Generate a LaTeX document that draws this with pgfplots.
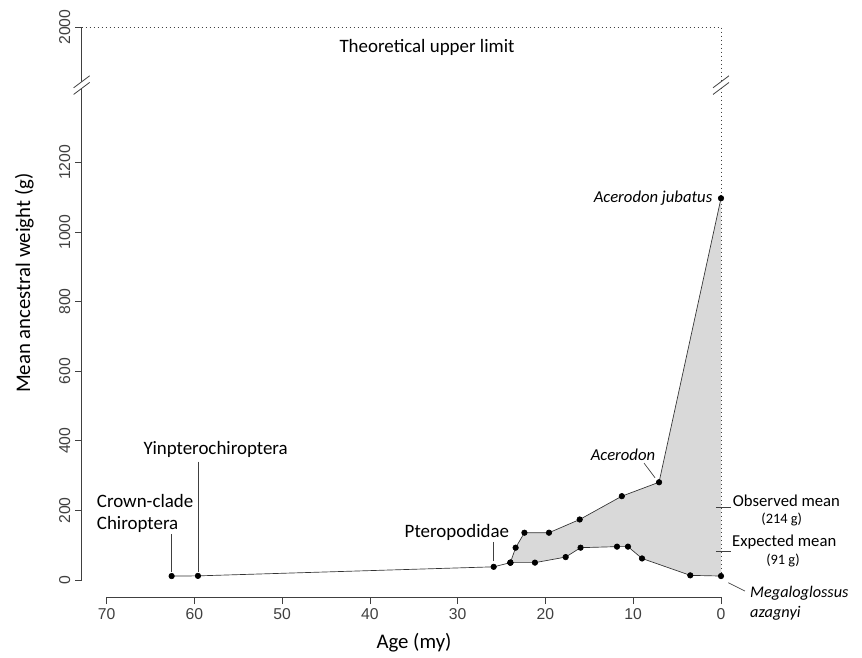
\documentclass[border=0pt]{standalone}
\usepackage{fontspec}
\setmainfont{Carlito}
\newfontfamily\arialfont{Liberation Sans}
\usepackage{pgfplots}
\pgfplotsset{compat=1.18}
\usepackage{pgfplotstable}
\usepgfplotslibrary{fillbetween}

% stem of the tree (Crown-clade Chiroptera -> Pteropodidae split)
\pgfplotstableread{
x y
62.6 11.5
59.6 12
25.9 38
24.0 50
}\stemdata
% upper bound of the envelope
\pgfplotstableread{
x y
24.0 50
23.4 93
22.4 136
19.6 136
16.1 174
11.3 241
7.06 281
0 1097
}\upperdata
% lower bound of the envelope
\pgfplotstableread{
x y
24.0 50
21.2 50
17.7 66
16.0 93
11.85 96
10.6 96
9.0 62
3.5 13.5
0 11.5
}\lowerdata

\newcommand\annfont{\fontsize{12.5}{15}\selectfont}
\newcommand\bigann{\fontsize{14.2}{17}\selectfont}
\newcommand\smallann{\fontsize{10.8}{12}\selectfont}
\definecolor{axgray}{HTML}{404040}
\definecolor{fillgray}{HTML}{D9D9D9}

\begin{document}
\begin{tikzpicture}
\begin{axis}[
  name=ax,
  scale only axis,
  width=460.7pt, height=414.75pt,
  x dir=reverse,
  xmin=0, xmax=70, ymin=0, ymax=2000,
  y coord trafo/.code={\pgfmathparse{#1>1400?1400+(#1-1400)*0.315:#1}},
  y coord inv trafo/.code={\pgfmathparse{#1>1400?1400+(#1-1400)/0.315:#1}},
  axis x line*=bottom, axis y line*=left,
  axis x line shift=13pt, axis y line shift=18.75pt,
  axis line style={axgray, line width=0.6pt, -},
  xtick={0,10,20,30,40,50,60,70},
  ytick={0,200,400,600,800,1000,1200,2000},
  yticklabels={0,200,400,600,800,1000,1200,2000},
  tick align=outside, major tick length=5pt,
  tick style={axgray, line width=0.6pt},
  /pgf/number format/assume math mode=true,
  ticklabel style={font=\arialfont\fontsize{11.8}{13}\selectfont, text=axgray},
  yticklabel style={rotate=90, anchor=south},
  xlabel={Age (my)},
  ylabel={Mean ancestral weight (g)},
  every axis x label/.style={at={(axis cs:34.98,-181)}, anchor=center, font=\fontsize{15.6}{18}\selectfont},
  every axis y label/.style={at={(axis cs:79.4,853)}, rotate=90, anchor=center, font=\fontsize{15.6}{18}\selectfont},
  clip=false,
]
% shaded envelope
\addplot[name path=up, draw=none, forget plot] table[x=x,y=y] {\upperdata};
\addplot[name path=lo, draw=none, forget plot] table[x=x,y=y] {\lowerdata};
\addplot[fillgray] fill between[of=up and lo];
% theoretical upper limit (dotted)
\addplot[axgray, line width=0.65pt, dash pattern=on 0.9pt off 2.1pt] coordinates {(72.85,2000) (0,2000) (0,11.5)};
% lines with nodes
\addplot[black!80, line width=0.5pt, mark=*, mark size=2.05pt, mark options={fill=black, draw=black}] table[x=x,y=y] {\stemdata};
\addplot[black!80, line width=0.5pt, mark=*, mark size=2.05pt, mark options={fill=black, draw=black}] table[x=x,y=y] {\upperdata};
\addplot[black!80, line width=0.5pt, mark=*, mark size=2.05pt, mark options={fill=black, draw=black}] table[x=x,y=y] {\lowerdata};
% observed / expected mean ticks
\addplot[axgray, line width=0.7pt] coordinates {(0.57,209) (-1.14,209)};
\addplot[axgray, line width=0.7pt] coordinates {(0.57,83) (-1.14,83)};

% axis breaks (left axis)
\fill[white] ([xshift=-6pt,yshift=-7pt]axis cs:72.85,1470) -- ([xshift=6pt,yshift=2pt]axis cs:72.85,1470) -- ([xshift=6pt,yshift=7pt]axis cs:72.85,1470) -- ([xshift=-6pt,yshift=-2pt]axis cs:72.85,1470) -- cycle;
\draw[axgray, line width=0.6pt] ([xshift=-6pt,yshift=-2pt]axis cs:72.85,1470) -- ([xshift=6pt,yshift=7pt]axis cs:72.85,1470);
\draw[axgray, line width=0.6pt] ([xshift=-6pt,yshift=-7pt]axis cs:72.85,1470) -- ([xshift=6pt,yshift=2pt]axis cs:72.85,1470);
% axis breaks (right dotted line)
\fill[white] ([xshift=-6pt,yshift=-7pt]axis cs:0,1470) -- ([xshift=6pt,yshift=2pt]axis cs:0,1470) -- ([xshift=6pt,yshift=7pt]axis cs:0,1470) -- ([xshift=-6pt,yshift=-2pt]axis cs:0,1470) -- cycle;
\draw[axgray, line width=0.6pt] ([xshift=-6pt,yshift=-2pt]axis cs:0,1470) -- ([xshift=6pt,yshift=7pt]axis cs:0,1470);
\draw[axgray, line width=0.6pt] ([xshift=-6pt,yshift=-7pt]axis cs:0,1470) -- ([xshift=6pt,yshift=2pt]axis cs:0,1470);

% annotations
\node[font=\bigann, anchor=center, yshift=-15pt] at (axis cs:33.5,2000) {Theoretical upper limit};
\node[font=\annfont\itshape, anchor=east, xshift=-3pt] at (axis cs:0,1097) {Acerodon jubatus};
\node[font=\annfont\itshape, anchor=center] at (axis cs:11.17,359) {Acerodon};
\draw[axgray, line width=0.5pt] (axis cs:8.77,336) -- (axis cs:7.52,294);
\node[font=\annfont, anchor=west, inner sep=0pt] at (axis cs:-1.33,228) {Observed mean};
\node[font=\smallann, anchor=center] at (axis cs:-6.92,175) {(214 g)};
\node[font=\annfont, anchor=west, inner sep=0pt] at (axis cs:-1.25,110) {Expected mean};
\node[font=\smallann, anchor=center] at (axis cs:-7.06,55.5) {(91 g)};
\node[font=\fontsize{12.2}{14}\selectfont\itshape, anchor=west, inner sep=0pt] at (axis cs:-3.3,-38) {Megaloglossus};
\node[font=\fontsize{12.2}{14}\selectfont\itshape, anchor=west, inner sep=0pt] at (axis cs:-3.3,-95.7) {azagnyi};
\draw[axgray, line width=0.5pt] (axis cs:-0.83,-7.8) -- (axis cs:-2.73,-31.6);
\node[font=\bigann, anchor=center] at (axis cs:30.1,136) {Pteropodidae};
\draw[axgray, line width=0.5pt] (axis cs:25.9,110) -- (axis cs:25.9,54.6);
\node[font=\bigann, anchor=west, inner sep=0pt] at (axis cs:71.14,227) {Crown-clade};
\node[font=\bigann, anchor=west, inner sep=0pt] at (axis cs:71.14,161) {Chiroptera};
\draw[axgray, line width=0.5pt] (axis cs:62.6,132) -- (axis cs:62.6,24);
\node[font=\bigann, anchor=center] at (axis cs:57.58,375.6) {Yinpterochiroptera};
\draw[axgray, line width=0.5pt] (axis cs:59.6,340) -- (axis cs:59.6,24);
\end{axis}
\pgfresetboundingbox
\path ([xshift=-80pt, yshift=-57.75pt]ax.south west) rectangle ([xshift=105.75pt, yshift=20.25pt]ax.north east);
\end{tikzpicture}
\end{document}
